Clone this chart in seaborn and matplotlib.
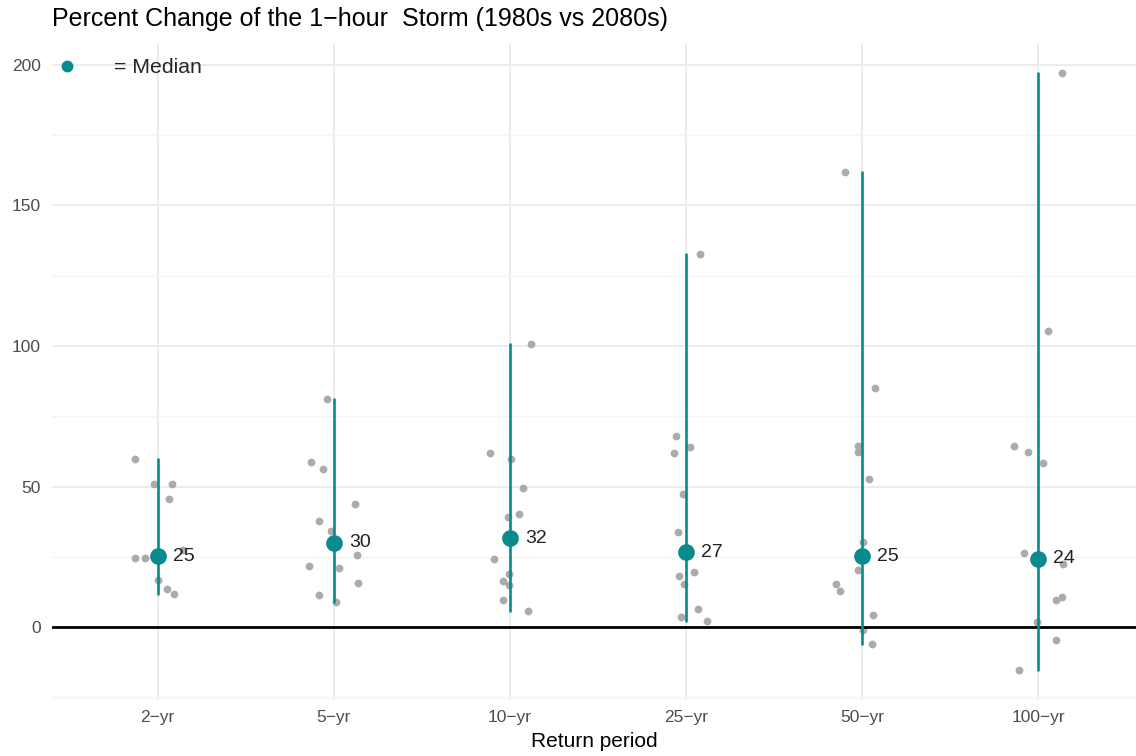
import numpy as np
import pandas as pd
import matplotlib
matplotlib.use("Agg")
import matplotlib.pyplot as plt
from matplotlib.lines import Line2D
from matplotlib.ticker import MultipleLocator
import seaborn as sns

# ---- data ----
periods = ["2\u2212yr", "5\u2212yr", "10\u2212yr", "25\u2212yr", "50\u2212yr", "100\u2212yr"]
vals_2yr = [59.7, 51.1, 50.9, 45.7, 27.6, 25.6, 24.9, 24.7, 24.5, 16.7, 13.5, 11.7]
vals_5yr = [81.0, 58.8, 56.1, 43.8, 37.8, 34.3, 25.6, 21.7, 21.2, 15.8, 11.4, 8.8]
vals_10yr = [100.7, 62.0, 59.7, 49.4, 40.2, 39.3, 24.1, 18.9, 16.4, 14.9, 9.5, 5.8]
vals_25yr = [132.6, 68.0, 64.2, 62.0, 47.3, 33.7, 19.7, 18.3, 15.3, 6.6, 3.7, 2.1]
vals_50yr = [161.8, 85.1, 64.3, 62.4, 52.7, 30.2, 20.4, 15.5, 12.7, 4.4, -1.0, -5.9]
vals_100yr = [197.2, 105.4, 64.3, 62.4, 58.5, 26.5, 22.3, 10.6, 9.8, 2.0, -4.6, -15.3]
y_ticks = [0, 50, 100, 150, 200]

title = "Percent Change of the 1\u2212hour  Storm (1980s vs 2080s)"
xlabel = "Return period"
legend_label = "= Median"

TEAL = "#0A8B8B"
GREY = "#ABABAB"

all_vals = [vals_2yr, vals_5yr, vals_10yr, vals_25yr, vals_50yr, vals_100yr]
df = pd.DataFrame({
    "period": np.repeat(periods, [len(v) for v in all_vals]),
    "change": np.concatenate(all_vals),
})
df["period"] = pd.Categorical(df["period"], categories=periods, ordered=True)

sns.set_theme(style="whitegrid")
plt.rcParams["font.family"] = ["Liberation Sans", "DejaVu Sans"]

fig = plt.figure(figsize=(11.36, 7.56), dpi=100)
ax = fig.add_axes([52 / 1136, 1 - 700 / 756, 1 - 52 / 1136, (700 - 43) / 756])

np.random.seed(7)
sns.stripplot(data=df, x="period", y="change", order=periods, color=GREY,
              jitter=0.15, size=5.6, linewidth=0, ax=ax, zorder=2)

sns.pointplot(data=df, x="period", y="change", order=periods, estimator="median",
              errorbar=lambda v: (v.min(), v.max()), color=TEAL, linestyle="none",
              markers="o", markersize=10, err_kws={"linewidth": 1.9}, ax=ax)
for coll in ax.collections[len(periods):]:
    coll.set_zorder(4)
for ln in ax.lines:
    ln.set_zorder(4)

ax.axhline(0, color="black", linewidth=2.0, zorder=3)

medians = df.groupby("period", observed=True)["change"].median()
for i, p in enumerate(periods):
    m = medians[p]
    ax.annotate(f"{int(np.floor(m + 0.5))}", xy=(i, m), xytext=(11, 0),
                textcoords="offset points", va="center", ha="left",
                fontsize=14, color="#222222", zorder=5)

ax.set_xlim(-0.6, 5.556)
ax.set_ylim(-25.9, 207.8)
ax.set_yticks(y_ticks)
ax.yaxis.set_minor_locator(MultipleLocator(25))
ax.grid(which="major", color="#EBEBEB", linewidth=1.3)
ax.grid(which="minor", axis="y", color="#F4F4F4", linewidth=1.0)
ax.set_axisbelow(True)
for s in ax.spines.values():
    s.set_visible(False)
ax.tick_params(axis="both", which="both", length=0, labelsize=12.5, labelcolor="#4D4D4D")
ax.tick_params(axis="y", pad=8)
ax.tick_params(axis="x", pad=7)

ax.set_xlabel(xlabel, fontsize=15, color="black", labelpad=5)
ax.set_ylabel("")
ax.set_title(title, loc="left", fontsize=18, color="black", pad=12)

handle = Line2D([], [], marker="o", color=TEAL, linestyle="", markersize=7.5)
ax.legend([handle], [legend_label], loc="upper left", bbox_to_anchor=(0.005, 0.977),
          frameon=False, fontsize=15.3, handlelength=0.9, handletextpad=1.75,
          borderpad=0, borderaxespad=0)

fig.savefig("out.png", dpi=100)
